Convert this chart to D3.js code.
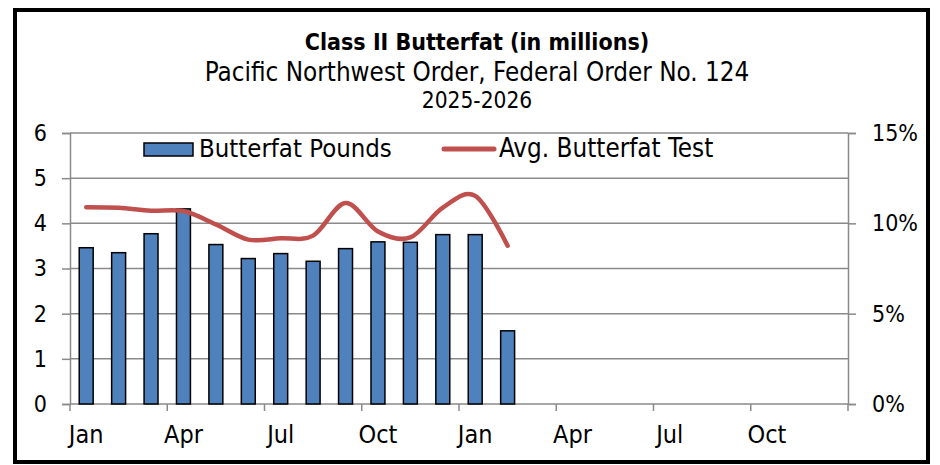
<!DOCTYPE html>
<html>
<head>
<meta charset="utf-8">
<script src="https://cdn.jsdelivr.net/npm/d3@7"></script>
<style>
  body { margin: 0; background: #fff; }
  text { font-family: 'DejaVu Sans Condensed', 'DejaVu Sans', sans-serif; font-stretch: condensed; fill: #000; }
</style>
</head>
<body>
<div id="chart"></div>
<script>
// months on the category axis (two years, only the first 14 have data)
var months = ["Jan","Feb","Mar","Apr","May","Jun","Jul","Aug","Sep","Oct","Nov","Dec",
              "Jan","Feb","Mar","Apr","May","Jun","Jul","Aug","Sep","Oct","Nov","Dec"]
var poundsValues = [3.46, 3.35, 3.77, 4.32, 3.53, 3.22, 3.33, 3.16, 3.44, 3.59, 3.58, 3.75, 3.75, 1.62]
var testValues   = [10.89, 10.86, 10.7, 10.68, 9.94, 9.1, 9.17, 9.32, 11.12, 9.55, 9.22, 10.87, 11.52, 8.76]
var leftTicks  = [0, 1, 2, 3, 4, 5, 6]
var rightTicks = [0, 5, 10, 15]
var titleLines = ["Class II Butterfat (in millions)", "Pacific Northwest Order, Federal Order No. 124", "2025-2026"]
var legendNames = ["Butterfat Pounds", "Avg. Butterfat Test"]

var width = 940, height = 465
var margin = {left: 70, right: 92, top: 133, bottom: 61}
var blue = "#4f81bd", red = "#c0504d", grid = "#8a8a8a"

var svg = d3.select("#chart").append("svg")
  .attr("width", width)
  .attr("height", height)

// outer frame
svg.append("rect")
  .attr("x", 15).attr("y", 10)
  .attr("width", 913).attr("height", 452)
  .attr("fill", "none").attr("stroke", "#000").attr("stroke-width", 4)

var x = d3.scaleBand()
  .domain(d3.range(months.length))
  .range([margin.left, width - margin.right])
  .paddingInner(0).paddingOuter(0)

var y = d3.scaleLinear().domain([0, 6]).range([height - margin.bottom, margin.top])
var y2 = d3.scaleLinear().domain([0, 15]).range([height - margin.bottom, margin.top])

// title
svg.selectAll(".title")
  .data(titleLines)
  .enter().append("text")
    .attr("class", "title")
    .attr("x", 477)
    .attr("y", function(d, i) { return [50, 81, 108][i] })
    .attr("text-anchor", "middle")
    .style("font-size", function(d, i) { return ["23px", "25.8px", "22.5px"][i] })
    .style("font-weight", function(d, i) { return i == 0 ? "bold" : "normal" })
    .text(function(d) { return d })

// horizontal gridlines
svg.append("g")
  .selectAll("line")
  .data(leftTicks.slice(1))
  .enter().append("line")
    .attr("x1", margin.left).attr("x2", width - margin.right)
    .attr("y1", function(d) { return y(d) }).attr("y2", function(d) { return y(d) })
    .attr("stroke", grid).attr("stroke-width", 1.5)

// left axis
var leftAxis = svg.append("g")
  .attr("transform", "translate(" + margin.left + ",0)")
  .call(d3.axisLeft(y).tickValues(leftTicks).tickSize(8).tickPadding(15).tickFormat(d3.format("d")))
leftAxis.selectAll("path, line").attr("stroke", grid).attr("stroke-width", 1.5)
leftAxis.selectAll("text").style("font-size", "23px").attr("fill", "#000")

// right axis
var rightAxis = svg.append("g")
  .attr("transform", "translate(" + (width - margin.right) + ",0)")
  .call(d3.axisRight(y2).tickValues(rightTicks).tickSize(8).tickPadding(16).tickFormat(function(d) { return d + "%" }))
rightAxis.selectAll("path, line").attr("stroke", grid).attr("stroke-width", 1.5)
rightAxis.selectAll("text").style("font-size", "23px").attr("fill", "#000")

// bottom axis: ticks every three months at band edges, labels at band centers
var bottom = svg.append("g")
svg.append("line")
  .attr("x1", margin.left).attr("x2", width - margin.right)
  .attr("y1", y(0)).attr("y2", y(0))
  .attr("stroke", grid).attr("stroke-width", 1.5)
var tickIdx = d3.range(0, months.length + 1, 3)
bottom.selectAll("line")
  .data(tickIdx)
  .enter().append("line")
    .attr("x1", function(i) { return i < months.length ? x(i) : x.range()[1] })
    .attr("x2", function(i) { return i < months.length ? x(i) : x.range()[1] })
    .attr("y1", y(0)).attr("y2", y(0) + 7)
    .attr("stroke", grid).attr("stroke-width", 1.5)
bottom.selectAll("text")
  .data(tickIdx.filter(function(i) { return i < months.length }))
  .enter().append("text")
    .attr("x", function(i) { return x(i) + x.bandwidth() / 2 })
    .attr("y", 443)
    .attr("text-anchor", "middle")
    .style("font-size", "25px")
    .text(function(i) { return months[i] })

// bars
var barW = x.bandwidth() * 0.43
svg.append("g")
  .selectAll("rect")
  .data(poundsValues)
  .enter().append("rect")
    .attr("x", function(d, i) { return x(i) + (x.bandwidth() - barW) / 2 })
    .attr("y", function(d) { return y(d) })
    .attr("width", barW)
    .attr("height", function(d) { return y(0) - y(d) })
    .attr("fill", blue).attr("stroke", "#000").attr("stroke-width", 1.5)

// smoothed line
var line = d3.line()
  .x(function(d, i) { return x(i) + x.bandwidth() / 2 })
  .y(function(d) { return y2(d) })
  .curve(d3.curveCardinal.tension(0))
svg.append("path")
  .datum(testValues)
  .attr("d", line)
  .attr("fill", "none").attr("stroke", red).attr("stroke-width", 4.5)
  .attr("stroke-linecap", "round")

// legend
var legend = svg.append("g")
legend.append("rect")
  .attr("x", 144).attr("y", 143).attr("width", 49).attr("height", 13)
  .attr("fill", blue).attr("stroke", "#000").attr("stroke-width", 1.5)
legend.append("text")
  .attr("x", 199).attr("y", 157)
  .style("font-size", "25.5px")
  .text(legendNames[0])
legend.append("line")
  .attr("x1", 444).attr("x2", 494).attr("y1", 149).attr("y2", 149)
  .attr("stroke", red).attr("stroke-width", 5).attr("stroke-linecap", "round")
legend.append("text")
  .attr("x", 499).attr("y", 157)
  .style("font-size", "25.8px")
  .text(legendNames[1])
</script>
</body>
</html>
